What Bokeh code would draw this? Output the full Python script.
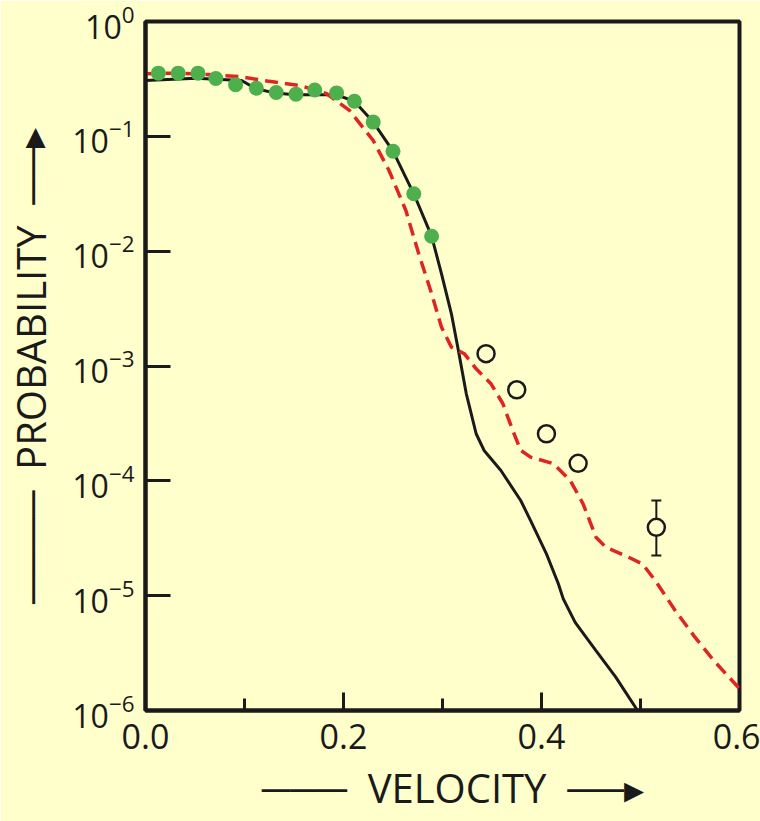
from bokeh.plotting import figure
from bokeh.models import (Range1d, FixedTicker, ColumnDataSource, Whisker, TeeHead,
                          NumeralTickFormatter)
from bokeh.embed import file_html
from bokeh.resources import INLINE

# ---- data ----
green_x = [0.013, 0.033, 0.053, 0.071, 0.091, 0.112, 0.132, 0.152, 0.171, 0.193, 0.211, 0.230, 0.250, 0.271, 0.289]
green_y = [0.355, 0.355, 0.355, 0.319, 0.281, 0.262, 0.241, 0.233, 0.253, 0.239, 0.202, 0.133, 0.0742, 0.0316, 0.0135]

black_x = [0.000, 0.051, 0.097, 0.111, 0.131, 0.151, 0.171, 0.193, 0.211, 0.230, 0.250, 0.271, 0.289, 0.299,
           0.309, 0.316, 0.324, 0.334, 0.342, 0.359, 0.379, 0.389, 0.405, 0.417, 0.422, 0.434, 0.455, 0.475, 0.497]
black_y = [0.306, 0.321, 0.306, 0.261, 0.238, 0.230, 0.230, 0.230, 0.202, 0.133, 0.0742, 0.0316, 0.0135, 0.00635,
           0.00285, 0.00137, 5.75e-4, 2.57e-4, 1.84e-4, 1.23e-4, 6.74e-5, 4.51e-5, 2.31e-5, 1.27e-5, 9.38e-6,
           5.86e-6, 3.32e-6, 1.95e-6, 1.0e-6]

red_x = [0.000, 0.031, 0.064, 0.094, 0.123, 0.156, 0.183, 0.206, 0.230, 0.246, 0.263, 0.276, 0.288, 0.299,
         0.309, 0.322, 0.334, 0.349, 0.361, 0.371, 0.379, 0.389, 0.412, 0.429, 0.442, 0.455, 0.465, 0.488,
         0.502, 0.515, 0.535, 0.555, 0.574, 0.600]
red_y = [0.351, 0.355, 0.345, 0.332, 0.303, 0.277, 0.235, 0.168, 0.092, 0.0504, 0.0226, 0.00948, 0.00454,
         0.00218, 0.00146, 0.00128, 9.45e-4, 7.0e-4, 4.69e-4, 2.74e-4, 1.84e-4, 1.61e-4, 1.41e-4, 1.01e-4,
         6.31e-5, 3.23e-5, 2.64e-5, 2.16e-5, 1.89e-5, 1.35e-5, 7.43e-6, 4.35e-6, 2.72e-6, 1.55e-6]

open_x = [0.344, 0.375, 0.405, 0.437, 0.516]
open_y = [1.28e-3, 6.21e-4, 2.57e-4, 1.42e-4, 3.94e-5]

err_x = [0.516]
err_lo = [2.24e-5]
err_hi = [6.74e-5]

x_ticks = [0.0, 0.2, 0.4, 0.6]
x_minor = [0.1, 0.3, 0.5]
y_ticks = [1e-6, 1e-5, 1e-4, 1e-3, 1e-2, 1e-1, 1e0]
x_title = "VELOCITY"
y_title = "PROBABILITY"

# ---- styling ----
BG = "#FFFFCC"
INK = "#1a1a1a"
FONT = "Open Sans"
NB = "\u00a0"

p = figure(width=760, height=821, output_backend="svg", toolbar_location=None,
           x_range=Range1d(0, 0.6), y_range=Range1d(1e-6, 1), y_axis_type="log",
           min_border_left=136, min_border_right=21, min_border_top=21, min_border_bottom=111)
p.background_fill_color = BG
p.border_fill_color = BG
p.outline_line_color = INK
p.outline_line_width = 4
p.grid.visible = False

p.xaxis.ticker = FixedTicker(ticks=x_ticks, minor_ticks=x_minor)
p.xaxis.formatter = NumeralTickFormatter(format="0.0")
p.yaxis.ticker = FixedTicker(ticks=y_ticks, minor_ticks=[])
for ax in (p.xaxis[0], p.yaxis[0]):
    ax.axis_line_width = 4
    ax.axis_line_color = INK
    ax.major_tick_line_color = INK
    ax.major_tick_line_width = 3
    ax.minor_tick_line_color = INK
    ax.minor_tick_line_width = 3
    ax.major_tick_out = 0
    ax.minor_tick_out = 0
    ax.major_label_text_font = FONT
    ax.major_label_text_color = INK
    ax.axis_label_text_font = FONT
    ax.axis_label_text_font_style = "normal"
    ax.axis_label_text_color = INK
    ax.axis_label_text_font_size = "40px"

p.xaxis.major_tick_in = 18
p.xaxis.minor_tick_in = 12
p.xaxis.major_label_text_font_size = "34px"
p.xaxis.major_label_standoff = 13
p.xaxis.axis_label = NB * 2 + "───" + NB * 2 + x_title + NB * 2 + "──▸"
p.xaxis.axis_label_standoff = 8

p.yaxis.major_tick_in = 25
p.yaxis.major_label_text_font_size = "32px"
p.yaxis.major_label_standoff = 11
p.yaxis.axis_label = "────" + NB * 2 + y_title + NB * 2 + "──▸"
p.yaxis.axis_label_standoff = 11

# curves
p.line(black_x, black_y, line_color=INK, line_width=3)
p.line(red_x, red_y, line_color="#E02424", line_width=3.5, line_dash="13 7")
p.scatter(green_x, green_y, marker="circle", size=15, fill_color="#4DB04D", line_color=None)

err = ColumnDataSource(dict(x=err_x, lo=err_lo, hi=err_hi))
p.add_layout(Whisker(source=err, base="x", lower="lo", upper="hi", line_color=INK, line_width=2,
                     upper_head=TeeHead(size=10, line_width=2, line_color=INK),
                     lower_head=TeeHead(size=10, line_width=2, line_color=INK)))
p.scatter(open_x, open_y, marker="circle", size=17, fill_color=BG, line_color=INK, line_width=2.5)

open("out.html", "w").write(file_html(p, INLINE))
